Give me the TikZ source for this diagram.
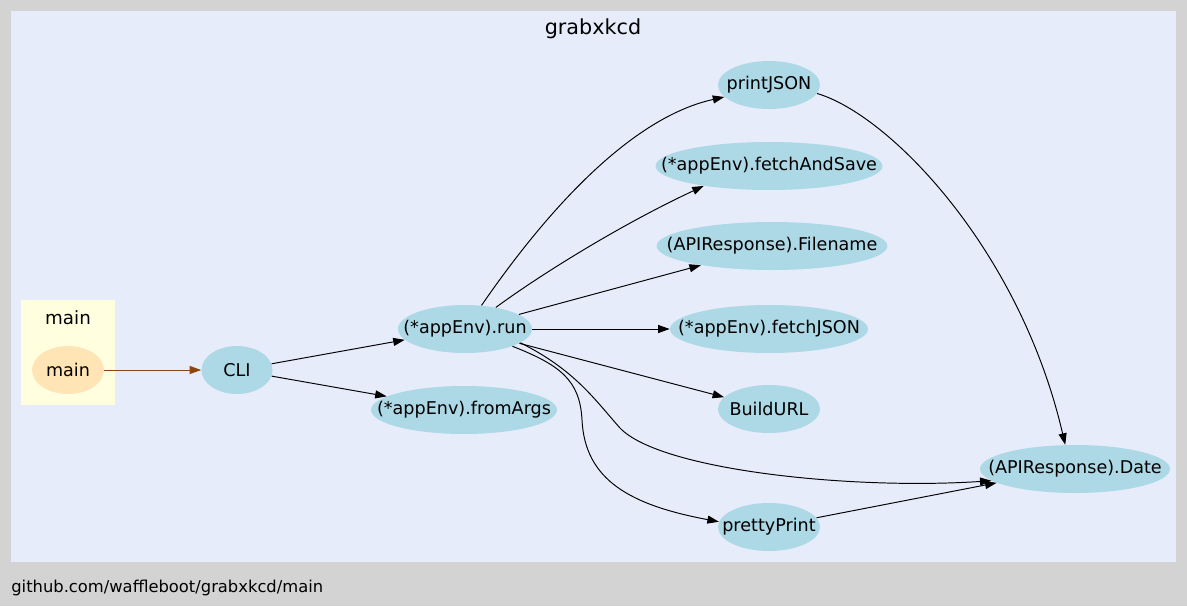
\documentclass[tikz,border=0pt]{standalone}
\usepackage{fontspec}
\setmainfont{DejaVu Sans}
\usetikzlibrary{shapes.geometric,arrows.meta}
\definecolor{pagegray}{HTML}{D3D3D3}
\definecolor{pkgblue}{HTML}{E6ECFA}
\definecolor{pkgyellow}{HTML}{FFFFE0}
\definecolor{fnblue}{HTML}{ADD8E6}
\definecolor{mainorange}{HTML}{FFE4B5}
\definecolor{callbrown}{HTML}{8B4513}
\begin{document}
\begin{tikzpicture}[x=0.02cm,y=-0.02cm,
  fn/.style={ellipse,fill=fnblue,inner sep=0pt,minimum height=0.96cm,font=\fontsize{10}{12}\selectfont,
    execute at begin node={\hbox to 0pt\bgroup\hss},execute at end node={\hss\egroup}},
  call/.style={-{Triangle[length=0.23cm,width=0.16cm]},line width=0.55pt}]
\fill[pagegray] (0,0) rectangle (1187,606);
\fill[pkgblue] (11,11) rectangle (1176,562);
\fill[pkgyellow] (21,300) rectangle (115,405);
\node[font=\fontsize{11.8}{14}\selectfont] (pkgtitle) at (593,29) {grabxkcd};
\node[font=\fontsize{10.4}{12}\selectfont] (maintitle) at (68,318) {main};
\node[anchor=west,inner sep=0pt,font=\fontsize{9.3}{11}\selectfont] (footer) at (11,588) {github.com/waffleboot/grabxkcd/main};
\node[fn,fill=mainorange,minimum width=1.44cm] (main) at (68,370) {main};
\node[fn,minimum width=1.42cm] (cli) at (237,370) {CLI};
\node[fn,minimum width=2.68cm] (run) at (465,329) {(*appEnv).run};
\node[fn,minimum width=3.72cm] (fromargs) at (464,410) {(*appEnv).fromArgs};
\node[fn,minimum width=2.04cm] (printjson) at (769,85) {printJSON};
\node[fn,minimum width=4.54cm] (fetchandsave) at (769,166) {(*appEnv).fetchAndSave};
\node[fn,minimum width=4.62cm] (filename) at (772,246) {(APIResponse).Filename};
\node[fn,minimum width=3.96cm] (fetchjson) at (769,329) {(*appEnv).fetchJSON};
\node[fn,minimum width=2.04cm] (buildurl) at (769,409) {BuildURL};
\node[fn,minimum width=2.04cm] (prettyprint) at (769,527) {prettyPrint};
\node[fn,minimum width=3.8cm] (date) at (1075,469) {(APIResponse).Date};
\draw[call,callbrown] (main) -- (cli);
\draw[call] (cli) -- (run);
\draw[call] (cli) -- (fromargs);
\draw[call] (run.55) .. controls (530,235) and (620,120) .. (printjson.195);
\draw[call] (run.35) .. controls (540,275) and (620,225) .. (fetchandsave.197);
\draw[call] (run) -- (filename);
\draw[call] (run) -- (fetchjson);
\draw[call] (run) -- (buildurl);
\draw[call] (run.-14) .. controls (575,370) and (595,400) .. (620,428)
  .. controls (660,470) and (850,490) .. (date.188);
\draw[call] (run.-20) .. controls (560,365) and (580,380) .. (582,420)
  .. controls (585,480) and (630,505) .. (prettyprint.174);
\draw[call] (printjson.-10) .. controls (890,115) and (1020,250) .. (date.112);
\draw[call] (prettyprint) -- (date.190);
\end{tikzpicture}
\end{document}
